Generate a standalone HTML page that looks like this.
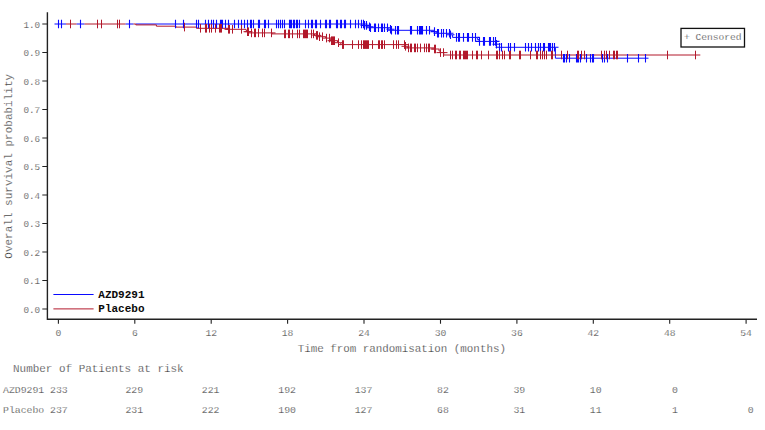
<!DOCTYPE html>
<html><head><meta charset="utf-8"><title>KM</title>
<style>
html,body{margin:0;padding:0;background:#fff;}
svg{display:block;}
text{font-family:"Liberation Mono",monospace;fill:#2c2c2c;stroke:#fff;stroke-width:0.25px;}
</style></head>
<body>
<svg width="765" height="430" viewBox="0 0 765 430">
<rect width="765" height="430" fill="#fff"/>
<path d="M54.5,24H66M76.5,24H84.5M125.5,24H133.5M135.8,24H363.7V25.4H367.0V26.8H369.6V27.7H388.0V29.2H390.7V30.3H434.5V31.6H436.2V33.3H450.0V34.8H452.6V37.4H477.3V39.4H479.2V41.4H496.2V44.2H499.5V47.3H555.4V58.2H648.5" stroke="#0a0aff" stroke-width="1" fill="none"/>
<path d="M66,24H76.5M84.5,24H125.5M133.5,24H135.8V24.9H156.4V26.2H175.9V27.1H197.0V28.3H228.0V29.3H246.0V30.4H247.5V31.7H248.8V32.9H272.0V33.9H314.6V35.4H319.0V36.7H325.7V38.1H329.6V39.4H330.8V40.7H337.5V42.7H340.8V44.6H405.0V46.3H407.7V47.9H434.5V49.0H439.0V51.0H440.5V52.6H443.7V55.0H700.3" stroke="#b2182b" stroke-width="1" fill="none"/>
<path d="M58.5,19.7v8.6M61.5,19.7v8.6M80.5,19.7v8.6M129.5,19.7v8.6M175.5,19.7v8.6M183.5,19.7v8.6M196.5,19.7v8.6M198.5,19.7v8.6M205.5,19.7v8.6M208.5,19.7v8.6M211.5,19.7v8.6M213.5,19.7v8.6M216.5,19.7v8.6M220.5,19.7v8.6M221.5,19.7v8.6M222.5,19.7v8.6M225.5,19.7v8.6M228.5,19.7v8.6M234.5,19.7v8.6M238.5,19.7v8.6M241.5,19.7v8.6M244.5,19.7v8.6M247.5,19.7v8.6M250.5,19.7v8.6M251.5,19.7v8.6M253.5,19.7v8.6M258.5,19.7v8.6M259.5,19.7v8.6M264.5,19.7v8.6M265.5,19.7v8.6M268.5,19.7v8.6M276.5,19.7v8.6M278.5,19.7v8.6M280.5,19.7v8.6M282.5,19.7v8.6M284.5,19.7v8.6M289.5,19.7v8.6M290.5,19.7v8.6M291.5,19.7v8.6M293.5,19.7v8.6M294.5,19.7v8.6M296.5,19.7v8.6M297.5,19.7v8.6M299.5,19.7v8.6M305.5,19.7v8.6M308.5,19.7v8.6M311.5,19.7v8.6M312.5,19.7v8.6M315.5,19.7v8.6M316.5,19.7v8.6M320.5,19.7v8.6M325.5,19.7v8.6M326.5,19.7v8.6M329.5,19.7v8.6M330.5,19.7v8.6M336.5,19.7v8.6M337.5,19.7v8.6M340.5,19.7v8.6M341.5,19.7v8.6M344.5,19.7v8.6M345.5,19.7v8.6M350.5,19.7v8.6M355.5,19.7v8.6M358.5,19.7v8.6M361.5,19.7v8.6M363.7,24.0H365.5M363.5,19.7v8.6M363.7,24.0H367.5M364.5,21.1v8.6M360.5,25.4H363.7M367.0,25.4H368.5M366.5,21.1v8.6M362.5,25.4H363.7M367.0,25.4H370.5M369.5,22.5v8.6M365.5,26.8H367.0M369.6,26.8H373.5M370.5,23.4v8.6M366.5,27.7H369.6M374.5,23.4v8.6M375.5,23.4v8.6M378.5,23.4v8.6M381.5,23.4v8.6M382.5,23.4v8.6M384.5,23.4v8.6M388.0,27.7H388.5M387.5,23.4v8.6M388.0,27.7H391.5M390.5,24.9v8.6M386.5,29.2H388.0M390.7,29.2H394.5M391.5,26.0v8.6M387.5,30.3H390.7M395.5,26.0v8.6M397.5,26.0v8.6M398.5,26.0v8.6M410.5,26.0v8.6M411.5,26.0v8.6M417.5,26.0v8.6M419.5,26.0v8.6M420.5,26.0v8.6M421.5,26.0v8.6M422.5,26.0v8.6M426.5,26.0v8.6M429.5,26.0v8.6M434.5,27.3v8.6M430.5,31.6H434.5M436.2,31.6H438.5M437.5,29.0v8.6M433.5,33.3H436.2M438.5,29.0v8.6M434.5,33.3H436.2M441.5,29.0v8.6M443.5,29.0v8.6M446.5,29.0v8.6M450.0,33.3H450.5M449.5,29.0v8.6M450.0,33.3H453.5M450.5,30.5v8.6M446.5,34.8H450.0M452.6,34.8H454.5M456.5,33.1v8.6M452.5,37.4H452.6M458.5,33.1v8.6M459.5,33.1v8.6M463.5,33.1v8.6M467.5,33.1v8.6M468.5,33.1v8.6M472.5,33.1v8.6M475.5,33.1v8.6M477.3,37.4H479.5M479.5,37.1v8.6M475.5,41.4H479.2M483.5,37.1v8.6M484.5,37.1v8.6M489.5,37.1v8.6M490.5,37.1v8.6M493.5,37.1v8.6M496.2,41.4H497.5M495.5,37.1v8.6M496.2,41.4H499.5M496.5,39.9v8.6M492.5,44.2H496.2M499.5,44.2H500.5M499.5,43.0v8.6M495.5,47.3H499.5M501.5,43.0v8.6M497.5,47.3H499.5M508.5,43.0v8.6M510.5,43.0v8.6M514.5,43.0v8.6M525.5,43.0v8.6M528.5,43.0v8.6M531.5,43.0v8.6M535.5,43.0v8.6M538.5,43.0v8.6M540.5,43.0v8.6M543.5,43.0v8.6M544.5,43.0v8.6M548.5,43.0v8.6M549.5,43.0v8.6M550.5,43.0v8.6M552.5,43.0v8.6M555.4,47.3H556.5M554.5,43.0v8.6M555.4,47.3H558.5M563.5,53.9v8.6M564.5,53.9v8.6M566.5,53.9v8.6M569.5,53.9v8.6M576.5,53.9v8.6M577.5,53.9v8.6M578.5,53.9v8.6M580.5,53.9v8.6M586.5,53.9v8.6M590.5,53.9v8.6M592.5,53.9v8.6M593.5,53.9v8.6M602.5,53.9v8.6M604.5,53.9v8.6M607.5,53.9v8.6M627.5,53.9v8.6M638.5,53.9v8.6M645.5,53.9v8.6" stroke="#0a0aff" stroke-width="1.1" fill="none"/>
<path d="M70.5,19.7v8.6M97.5,19.7v8.6M101.5,19.7v8.6M117.5,19.7v8.6M119.5,19.7v8.6M184.5,22.8v8.6M200.5,24.0v8.6M196.5,28.3H197.0M205.5,24.0v8.6M206.5,24.0v8.6M209.5,24.0v8.6M211.5,24.0v8.6M215.5,24.0v8.6M219.5,24.0v8.6M220.5,24.0v8.6M221.5,24.0v8.6M228.5,25.0v8.6M224.5,29.3H228.0M229.5,25.0v8.6M225.5,29.3H228.0M232.5,25.0v8.6M241.5,25.0v8.6M247.5,27.4v8.6M243.5,31.7H247.5M248.8,31.7H251.5M248.5,27.4v8.6M244.5,31.7H247.5M248.8,31.7H252.5M251.5,28.6v8.6M247.5,32.9H248.8M254.5,28.6v8.6M255.5,28.6v8.6M258.5,28.6v8.6M262.5,28.6v8.6M264.5,28.6v8.6M271.5,28.6v8.6M272.0,32.9H275.5M284.5,29.6v8.6M285.5,29.6v8.6M288.5,29.6v8.6M289.5,29.6v8.6M292.5,29.6v8.6M297.5,29.6v8.6M299.5,29.6v8.6M303.5,29.6v8.6M304.5,29.6v8.6M305.5,29.6v8.6M306.5,29.6v8.6M307.5,29.6v8.6M311.5,29.6v8.6M314.6,33.9H315.5M313.5,29.6v8.6M314.6,33.9H317.5M316.5,31.1v8.6M312.5,35.4H314.6M319.0,35.4H320.5M317.5,31.1v8.6M313.5,35.4H314.6M319.0,35.4H321.5M319.5,32.4v8.6M315.5,36.7H319.0M322.5,32.4v8.6M318.5,36.7H319.0M325.7,36.7H326.5M326.5,33.8v8.6M322.5,38.1H325.7M329.6,38.1H330.5M329.5,33.8v8.6M325.5,38.1H325.7M329.6,38.1H333.5M331.5,36.4v8.6M327.5,40.7H330.8M332.5,36.4v8.6M328.5,40.7H330.8M333.5,36.4v8.6M329.5,40.7H330.8M334.5,36.4v8.6M330.5,40.7H330.8M337.5,40.7H338.5M338.5,38.4v8.6M334.5,42.7H337.5M340.8,42.7H342.5M342.5,40.3v8.6M338.5,44.6H340.8M343.5,40.3v8.6M339.5,44.6H340.8M352.5,40.3v8.6M358.5,40.3v8.6M361.5,40.3v8.6M363.5,40.3v8.6M364.5,40.3v8.6M365.5,40.3v8.6M366.5,40.3v8.6M367.5,40.3v8.6M368.5,40.3v8.6M372.5,40.3v8.6M378.5,40.3v8.6M379.5,40.3v8.6M381.5,40.3v8.6M382.5,40.3v8.6M384.5,40.3v8.6M393.5,40.3v8.6M396.5,40.3v8.6M398.5,40.3v8.6M404.5,40.3v8.6M405.0,44.6H408.5M405.5,42.0v8.6M401.5,46.3H405.0M407.7,46.3H409.5M408.5,43.6v8.6M404.5,47.9H407.7M410.5,43.6v8.6M406.5,47.9H407.7M411.5,43.6v8.6M407.5,47.9H407.7M414.5,43.6v8.6M415.5,43.6v8.6M417.5,43.6v8.6M420.5,43.6v8.6M424.5,43.6v8.6M426.5,43.6v8.6M428.5,43.6v8.6M429.5,43.6v8.6M434.5,44.7v8.6M430.5,49.0H434.5M435.5,44.7v8.6M431.5,49.0H434.5M439.0,49.0H439.5M440.5,48.3v8.6M436.5,52.6H440.5M443.7,52.6H444.5M443.5,48.3v8.6M439.5,52.6H440.5M443.7,52.6H447.5M450.5,50.7v8.6M452.5,50.7v8.6M455.5,50.7v8.6M456.5,50.7v8.6M459.5,50.7v8.6M460.5,50.7v8.6M463.5,50.7v8.6M464.5,50.7v8.6M465.5,50.7v8.6M466.5,50.7v8.6M467.5,50.7v8.6M472.5,50.7v8.6M476.5,50.7v8.6M477.5,50.7v8.6M481.5,50.7v8.6M488.5,50.7v8.6M496.5,50.7v8.6M497.5,50.7v8.6M499.5,50.7v8.6M502.5,50.7v8.6M504.5,50.7v8.6M509.5,50.7v8.6M510.5,50.7v8.6M519.5,50.7v8.6M520.5,50.7v8.6M530.5,50.7v8.6M536.5,50.7v8.6M537.5,50.7v8.6M540.5,50.7v8.6M542.5,50.7v8.6M544.5,50.7v8.6M546.5,50.7v8.6M551.5,50.7v8.6M552.5,50.7v8.6M561.5,50.7v8.6M567.5,50.7v8.6M577.5,50.7v8.6M578.5,50.7v8.6M581.5,50.7v8.6M584.5,50.7v8.6M601.5,50.7v8.6M604.5,50.7v8.6M606.5,50.7v8.6M609.5,50.7v8.6M613.5,50.7v8.6M614.5,50.7v8.6M616.5,50.7v8.6M617.5,50.7v8.6M667.5,50.7v8.6M695.5,50.7v8.6" stroke="#b2182b" stroke-width="1" fill="none"/>
<path d="M47.4,12.3V319.2H757" stroke="#222" stroke-width="1.4" fill="none"/>
<path d="M42.3,24.0H47.4M42.3,52.5H47.4M42.3,81.0H47.4M42.3,109.5H47.4M42.3,138.0H47.4M42.3,166.5H47.4M42.3,195.0H47.4M42.3,223.5H47.4M42.3,252.0H47.4M42.3,280.5H47.4M42.3,309.0H47.4M58.4,319.2V323.8M134.8,319.2V323.8M211.2,319.2V323.8M287.6,319.2V323.8M364.0,319.2V323.8M440.5,319.2V323.8M516.9,319.2V323.8M593.3,319.2V323.8M669.7,319.2V323.8M746.1,319.2V323.8" stroke="#222" stroke-width="1.1" fill="none"/>
<path d="M53.4,294.5H93.6" stroke="#0a0aff" stroke-width="1"/>
<path d="M53.4,308.9H93.6" stroke="#b2182b" stroke-width="1"/>
<rect x="681" y="28.4" width="63.5" height="18.6" fill="#fff" stroke="#111" stroke-width="1.3"/>
<text x="40.2" y="27.8" text-anchor="end" font-size="9.3">1.0</text>
<text x="40.2" y="56.3" text-anchor="end" font-size="9.3">0.9</text>
<text x="40.2" y="84.8" text-anchor="end" font-size="9.3">0.8</text>
<text x="40.2" y="113.3" text-anchor="end" font-size="9.3">0.7</text>
<text x="40.2" y="141.8" text-anchor="end" font-size="9.3">0.6</text>
<text x="40.2" y="170.3" text-anchor="end" font-size="9.3">0.5</text>
<text x="40.2" y="198.8" text-anchor="end" font-size="9.3">0.4</text>
<text x="40.2" y="227.3" text-anchor="end" font-size="9.3">0.3</text>
<text x="40.2" y="255.8" text-anchor="end" font-size="9.3">0.2</text>
<text x="40.2" y="284.3" text-anchor="end" font-size="9.3">0.1</text>
<text x="40.2" y="312.8" text-anchor="end" font-size="9.3">0.0</text>
<text x="58.4" y="336.2" text-anchor="middle" font-size="9.7">0</text>
<text x="134.8" y="336.2" text-anchor="middle" font-size="9.7">6</text>
<text x="211.2" y="336.2" text-anchor="middle" font-size="9.7">12</text>
<text x="287.6" y="336.2" text-anchor="middle" font-size="9.7">18</text>
<text x="364.0" y="336.2" text-anchor="middle" font-size="9.7">24</text>
<text x="440.5" y="336.2" text-anchor="middle" font-size="9.7">30</text>
<text x="516.9" y="336.2" text-anchor="middle" font-size="9.7">36</text>
<text x="593.3" y="336.2" text-anchor="middle" font-size="9.7">42</text>
<text x="669.7" y="336.2" text-anchor="middle" font-size="9.7">48</text>
<text x="746.1" y="336.2" text-anchor="middle" font-size="9.7">54</text>
<text x="401.8" y="352" text-anchor="middle" font-size="10.85">Time from randomisation (months)</text>
<text transform="translate(12.3,166.3) rotate(-90)" text-anchor="middle" font-size="11">Overall survival probability</text>
<text x="13" y="371.6" font-size="10.95">Number of Patients at risk</text>
<text x="3" y="393" font-size="9.8">AZD9291 233</text>
<text x="3" y="413.3" font-size="9.8">Placebo 237</text>
<text x="143.1" y="393" text-anchor="end" font-size="9.8">229</text>
<text x="219.5" y="393" text-anchor="end" font-size="9.8">221</text>
<text x="295.9" y="393" text-anchor="end" font-size="9.8">192</text>
<text x="372.3" y="393" text-anchor="end" font-size="9.8">137</text>
<text x="448.8" y="393" text-anchor="end" font-size="9.8">82</text>
<text x="525.2" y="393" text-anchor="end" font-size="9.8">39</text>
<text x="601.6" y="393" text-anchor="end" font-size="9.8">10</text>
<text x="678.0" y="393" text-anchor="end" font-size="9.8">0</text>
<text x="143.1" y="413.3" text-anchor="end" font-size="9.8">231</text>
<text x="219.5" y="413.3" text-anchor="end" font-size="9.8">222</text>
<text x="295.9" y="413.3" text-anchor="end" font-size="9.8">190</text>
<text x="372.3" y="413.3" text-anchor="end" font-size="9.8">127</text>
<text x="448.8" y="413.3" text-anchor="end" font-size="9.8">68</text>
<text x="525.2" y="413.3" text-anchor="end" font-size="9.8">31</text>
<text x="601.6" y="413.3" text-anchor="end" font-size="9.8">11</text>
<text x="678.0" y="413.3" text-anchor="end" font-size="9.8">1</text>
<text x="753.6" y="413.3" text-anchor="end" font-size="9.8">0</text>
<text x="684" y="40.2" font-size="9.6">+ Censored</text>
<text x="98.3" y="297.8" font-size="11" font-weight="bold" style="fill:#0a0a0a;stroke:none">AZD9291</text>
<text x="98.3" y="311.8" font-size="11" font-weight="bold" style="fill:#0a0a0a;stroke:none">Placebo</text>
</svg>
</body></html>
